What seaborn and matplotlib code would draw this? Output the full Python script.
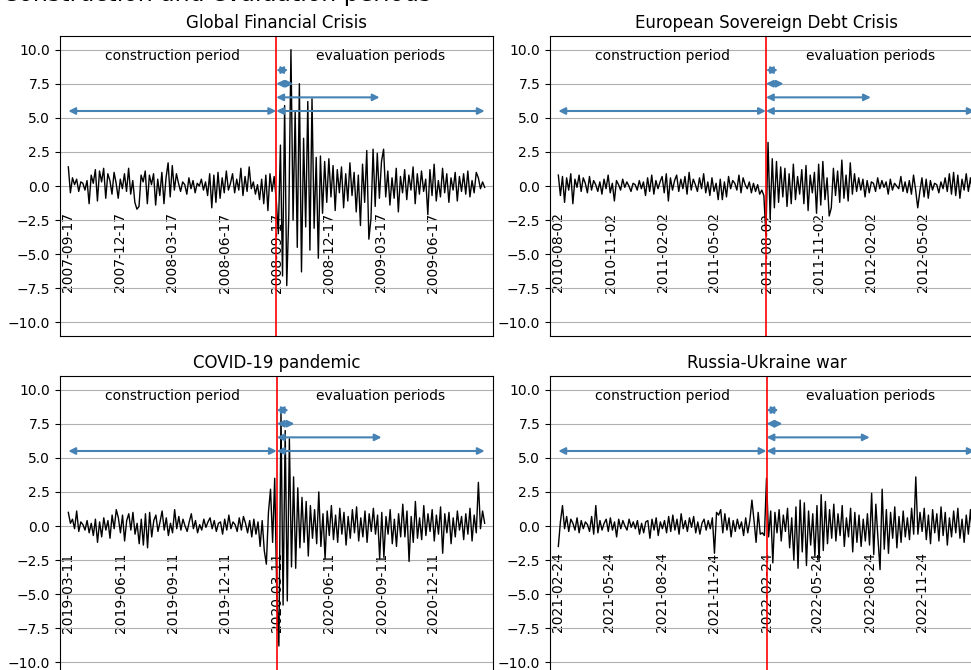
import pandas as pd
import seaborn as sns
import matplotlib.pyplot as plt
import matplotlib.dates as mdates

# values (standardised daily returns, thinned)
titles = ["Global Financial Crisis", "European Sovereign Debt Crisis", "COVID-19 pandemic", "Russia-Ukraine war"]
starts = ["2007-09-17", "2010-08-02", "2019-03-11", "2021-02-24"]
events = ["2008-09-15", "2011-08-01", "2020-03-11", "2022-02-24"]
ends = ["2009-09-15", "2012-08-01", "2021-03-11", "2023-02-24"]

ticks_gfc = ["2007-09-17", "2007-12-17", "2008-03-17", "2008-06-17", "2008-09-17", "2008-12-17", "2009-03-17", "2009-06-17"]
ticks_eu = ["2010-08-02", "2010-11-02", "2011-02-02", "2011-05-02", "2011-08-02", "2011-11-02", "2012-02-02", "2012-05-02"]
ticks_covid = ["2019-03-11", "2019-06-11", "2019-09-11", "2019-12-11", "2020-03-11", "2020-06-11", "2020-09-11", "2020-12-11"]
ticks_ru = ["2021-02-24", "2021-05-24", "2021-08-24", "2021-11-24", "2022-02-24", "2022-05-24", "2022-08-24", "2022-11-24"]

gfc_pre = [1.4, -0.5, 0.6, 0.1, 0.5, -0.4, 0.3, 0.2, -0.3, 0.4, -1.3, 0.8, 0.2, 1.2, -1.1, 1.1, 0.3, 1.3, -0.9, 0.9,
           0.4, -0.6, 1.0, 0.2, -0.9, 0.5, -0.2, 0.9, -0.4, 1.3, -0.6, 0.4, -1.2, -1.7, -1.5, 0.8, 0.3, 1.1, -1.3, 0.8,
           0.1, 0.9, -1.4, 0.5, -0.7, 1.0, -1.3, 0.6, 1.7, -0.8, 1.5, -0.3, 0.9, 0.2, -0.4, 0.3, 0.1, -0.6, 0.6, -0.2,
           0.4, -0.5, 0.2, 0.0, 0.5, -0.3, 0.3, -0.7, 0.9, -1.6, 0.8, -1.2, 1.0, -0.9, 0.6, -0.5, 1.1, -0.3, 0.2, 0.9,
           -0.5, 0.5, -0.3, 1.3, -0.7, 0.7, -0.4, 1.4, -0.2, 0.3, -0.6, 0.1, -1.0, 0.5, -1.3, 0.8, -1.8, 0.9, -0.4, 0.7]
gfc_post = [-1.0, -3.5, 3.0, -6.6, 5.9, -7.3, -2.0, 10.0, -2.5, 5.5, -4.5, 7.5, -6.3, 3.5, -3.0, 6.2, -4.7, 6.4, -3.1, 2.1,
            -5.3, 2.2, -2.0, 1.8, -1.2, 2.0, -0.8, 1.5, -1.8, 1.2, -0.5, 1.4, -1.6, 0.9, -1.1, 1.7, -0.7, 1.0, -1.9, 0.8,
            -2.9, 1.6, -1.2, 2.6, -3.9, -2.4, 2.7, -1.5, 2.4, -0.9, 1.8, 2.7, -0.8, 1.1, -1.4, 0.6, -0.9, 1.3, -1.9, 0.7,
            -0.5, 1.2, -1.0, 0.8, -0.3, 1.4, -1.3, 0.9, -0.6, 1.1, -0.4, 0.5, -2.1, 1.2, -0.7, 1.6, -1.1, 0.4, -0.8, 1.3,
            -0.5, 0.9, -1.2, 0.6, -0.3, 1.0, -1.1, 0.7, -0.4, 0.9, -0.6, 1.1, -0.8, 0.4, -0.5, 1.0, 0.6, -0.2, 0.3, -0.1]

eu_pre = [0.8, -0.7, 0.7, -1.2, 0.6, -0.3, 0.9, -1.3, 0.5, -0.1, 0.8, -0.4, 0.6, 0.2, -0.5, 0.7, -0.3, 0.4, 0.1, -0.4,
          0.3, -0.6, 0.5, -0.2, 0.8, -0.5, 0.2, -1.1, 0.4, 0.1, -0.3, 0.5, -0.1, 0.3, 0.0, -0.4, 0.2, 0.1, -0.3, 0.4,
          -0.2, 0.3, -0.7, 0.6, -0.4, 0.8, -0.6, 0.4, -0.2, 0.3, 0.7, -0.5, 0.9, -1.1, 0.6, -0.3, 0.4, 0.8, -0.4, 0.5,
          -0.2, 0.7, -0.6, 1.0, -0.3, 0.5, 0.1, -0.4, 0.6, -0.2, 0.9, -0.5, 0.3, -0.7, 0.6, -0.4, 0.2, -1.0, 0.5, -1.0,
          0.3, -0.8, 0.7, -0.2, 0.4, 0.2, -0.3, 0.8, -0.5, 0.6, 0.1, -0.2, 0.3, -0.5, 0.2, -0.4, 0.1, -0.6, -0.3, -0.7]
eu_post = [-3.6, 3.2, -2.4, 2.0, -1.6, 1.8, -1.2, 1.4, -0.8, 1.3, -1.5, 0.9, -1.3, 1.6, -1.0, 0.7, -0.6, 1.2, -1.3, 1.5,
           -1.8, 0.8, -0.5, 1.0, -2.0, 1.6, -1.4, 1.8, -1.0, 0.6, -2.2, -1.6, 1.3, -0.7, 1.1, -1.2, 1.9, -0.9, 0.8, -1.1,
           1.7, -0.6, 0.9, -0.4, 0.6, -0.3, 0.5, -0.8, 0.4, -0.5, 0.3, 0.2, -0.4, 0.6, -0.2, 0.4, -0.1, 0.3, -0.6, 0.5,
           -0.3, 0.2, 0.0, -0.2, 0.7, -0.4, 0.3, -0.5, 0.4, -0.6, 0.8, -0.3, -1.6, -0.4, 0.6, -0.8, 0.5, -0.9, 0.4, -0.3,
           0.2, 0.1, -0.5, 0.3, -0.2, 0.6, -0.4, 0.9, -0.6, 1.0, -0.7, 0.8, -0.9, 0.5, -0.3, 0.9, -0.4, 0.6, -0.5, -0.2]

covid_pre = [1.0, 0.2, 0.5, -0.2, 1.1, -0.4, 0.3, 0.1, -0.3, 0.4, -0.5, 0.2, -0.7, 0.5, -1.2, 0.3, -0.8, 0.6, -0.3, 0.4,
             -0.9, 0.8, -0.2, 1.2, 0.6, -0.5, 0.8, -1.1, 0.4, 0.9, -0.3, 1.0, -0.6, 0.2, -1.3, 0.5, -1.4, 0.9, -1.6, 1.0,
             -0.8, 0.4, 0.8, -0.4, 0.3, 1.1, -0.3, 0.6, -0.7, 0.2, -0.5, 1.2, -0.2, 0.7, -0.3, 0.5, 0.0, -0.4, 0.3, 0.9,
             -0.2, 0.4, -0.5, 0.1, -0.3, 0.5, -0.1, 0.3, 0.6, -0.2, 0.4, -0.4, 0.2, 0.3, -0.6, 0.5, -0.3, 0.8, -0.2, 0.3,
             0.1, -0.4, 0.6, -0.3, 0.7, 0.2, -0.5, 0.4, -0.8, 0.5, -0.6, 0.3, -1.5, 0.4, -1.8, -2.8, 1.0, 2.7, -1.2, 3.5]
covid_post = [-4.9, -8.8, 8.3, -5.8, 7.0, -5.5, 6.4, -3.0, 3.6, -3.1, 2.8, -1.6, 2.1, -1.2, 1.8, -2.2, 1.5, -0.9, 1.2, -1.3,
              2.5, -1.5, 0.9, -2.4, 1.1, -0.7, 1.5, -1.0, 0.8, -1.2, 1.3, -0.6, 1.0, -1.4, 0.7, -0.9, 1.2, -0.5, 1.4, -1.1,
              0.6, -0.8, 1.1, -1.2, 0.9, -0.4, 1.3, -0.6, 0.8, -2.4, 1.0, -2.3, 0.7, -0.6, 1.2, -1.3, 0.5, -1.5, 0.9, -0.8,
              1.6, -0.8, 1.1, -2.6, 0.7, -1.2, 1.8, -0.9, 0.6, -1.0, 1.5, -0.7, 0.9, -0.4, 1.2, -1.1, 0.8, -0.6, 1.4, -2.0,
              0.9, -0.5, 1.0, -1.3, 0.6, -0.8, 1.1, -0.3, 0.7, -1.0, 0.9, -0.6, 1.3, -1.1, 0.8, -0.5, 3.2, -0.2, 1.1, 0.2]

ru_pre = [-1.5, 0.3, 1.5, -0.2, 0.7, -0.4, 0.5, 0.2, -0.3, 0.6, -0.5, 0.4, -0.2, 0.3, 0.1, -0.4, 0.7, -0.6, 1.5, -0.5,
          0.4, -0.3, 0.2, 0.5, -0.4, 0.6, -0.3, 0.3, -0.8, 0.5, -0.2, 0.4, 0.0, -0.3, 0.5, -0.1, 0.3, -0.2, 0.4, -0.6,
          0.2, -0.5, 0.3, 0.4, -0.9, 0.5, -0.3, 0.6, -0.7, 0.3, -0.2, 0.4, -0.5, 0.7, -0.4, 0.8, -0.3, 0.5, -0.6, 0.9,
          -0.2, 0.4, -0.4, 0.6, -0.1, 0.7, -0.5, 0.3, -0.6, 0.2, 0.5, -0.3, 0.4, -0.2, 0.6, -2.0, 1.0, 0.8, 1.2, -0.5,
          0.9, -0.3, 0.6, -0.8, 0.4, -0.4, 0.5, -0.2, 0.3, -0.7, 0.6, -0.5, 0.4, 1.9, 0.4, -1.2, 1.0, -0.6, -0.5, -0.7]
ru_post = [3.5, -0.8, 1.1, -2.7, 1.0, -0.5, 1.2, -1.1, 0.8, -0.4, 1.3, -1.6, 0.6, -2.5, 1.4, -3.1, 1.9, -1.9, 1.7, -2.9,
           1.1, -1.4, 0.9, -2.2, 1.5, -2.6, 2.3, -1.8, 1.8, -1.3, 1.2, -0.9, 1.6, -1.1, 0.9, -0.7, 1.5, -1.5, 0.6, -0.8,
           1.3, -1.9, 1.0, -1.2, 0.8, -1.5, 0.5, -1.1, 0.9, -1.4, 2.4, -2.1, 1.6, -0.9, -3.2, 2.7, -1.7, 1.2, -2.0, 1.0,
           -0.9, 1.4, -1.6, 0.7, -1.2, 1.1, -0.8, 0.6, -1.0, 1.3, -0.6, 3.6, -0.6, 1.0, -0.4, 1.3, -1.0, 0.8, -1.3, 1.2,
           -0.5, 0.9, -1.1, 1.4, -0.7, 1.0, -1.4, 0.6, -0.8, 1.1, -0.5, 1.3, -0.9, 0.5, -1.2, 0.8, -0.6, 1.2, -1.0, -0.9]

all_ticks = [ticks_gfc, ticks_eu, ticks_covid, ticks_ru]
all_pre = [gfc_pre, eu_pre, covid_pre, ru_pre]
all_post = [gfc_post, eu_post, covid_post, ru_post]
# evaluation horizons, top to bottom
horizons = [pd.DateOffset(weeks=3), pd.DateOffset(months=1), pd.DateOffset(months=6), pd.DateOffset(years=1)]
arrow_y = [8.5, 7.5, 6.5, 5.5]

W, H = 971, 670
fig = plt.figure(figsize=(W / 100, H / 100), dpi=100)
boxes = [(60, 334), (550, 334), (60, -6), (550, -6)]

for k in range(4):
    x0, y0 = boxes[k]
    ax = fig.add_axes([x0 / W, y0 / H, 433 / W, 300 / H])
    start, event, end = pd.Timestamp(starts[k]), pd.Timestamp(events[k]), pd.Timestamp(ends[k])
    d_pre = pd.date_range(start, event, periods=len(all_pre[k]) + 1)[:-1]
    d_post = pd.date_range(event, end, periods=len(all_post[k]))
    df = pd.DataFrame({"date": list(d_pre) + list(d_post), "ret": all_pre[k] + all_post[k]})
    sns.lineplot(data=df, x="date", y="ret", ax=ax, color="black", lw=1)
    ax.axvline(event, color="red", lw=1.2)
    ax.set_ylim(-11, 11)
    ax.set_yticks([-10, -7.5, -5, -2.5, 0, 2.5, 5, 7.5, 10])
    ax.margins(x=0.02)
    ax.grid(axis="y")
    ax.set_axisbelow(True)
    ax.set_xticks(pd.to_datetime(all_ticks[k]))
    ax.set_xticklabels(all_ticks[k], rotation=90)
    ax.tick_params(axis="x", length=0, pad=-89)
    ax.set_xlabel("")
    ax.set_ylabel("")
    ax.set_title(titles[k], fontsize=12)

    s, e = mdates.date2num(start), mdates.date2num(event)
    aprops = dict(arrowstyle="<|-|>", color="steelblue", lw=1.5, shrinkA=0, shrinkB=0)
    ax.annotate("", xy=(e, 5.5), xytext=(s, 5.5), arrowprops=aprops)
    for h, yy in zip(horizons, arrow_y):
        ax.annotate("", xy=(mdates.date2num(event + h), yy), xytext=(e, yy), arrowprops=aprops)
    ax.text(start + (event - start) / 2, 9.5, "construction period", ha="center", va="center", fontsize=10)
    ax.text(event + (end - event) / 2, 9.5, "evaluation periods", ha="center", va="center", fontsize=10)

fig.text(2 / W, 1 - 1 / H, "Construction and evaluation periods", fontsize=17, ha="left", va="baseline")
fig.savefig("out.png", dpi=100)
